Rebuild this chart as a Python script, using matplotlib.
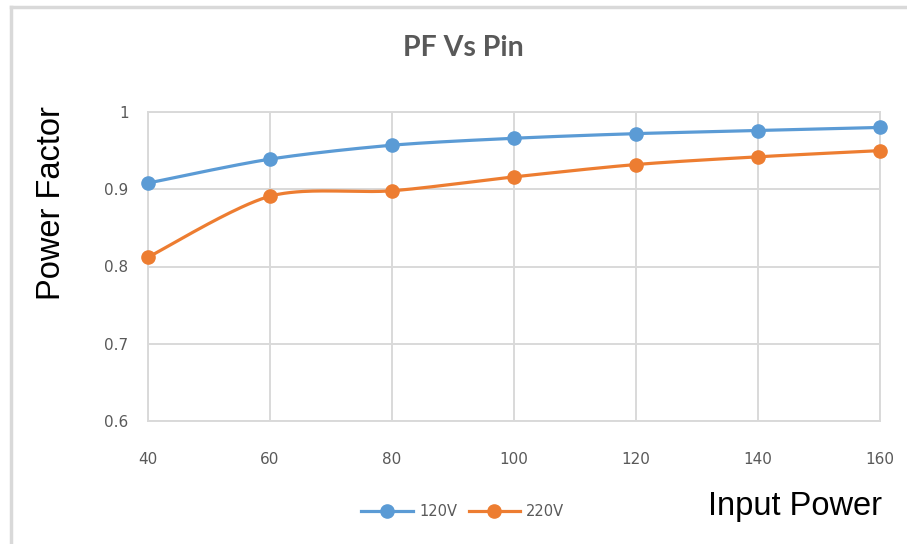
import numpy as np
import matplotlib
matplotlib.use("Agg")
import matplotlib.pyplot as plt
from matplotlib.lines import Line2D
from matplotlib.ticker import FixedLocator, FixedFormatter

# Data
input_power = [40, 60, 80, 100, 120, 140, 160]
pf_120v = [0.908, 0.939, 0.957, 0.966, 0.972, 0.976, 0.980]
pf_220v = [0.812, 0.891, 0.898, 0.916, 0.932, 0.942, 0.950]
series_labels = ["120V", "220V"]
y_ticks = [0.6, 0.7, 0.8, 0.9, 1.0]
y_tick_labels = ["0.6", "0.7", "0.8", "0.9", "1"]
x_ticks = [40, 60, 80, 100, 120, 140, 160]

BLUE = "#5B9BD5"
ORANGE = "#ED7D31"
GRID = "#D9D9D9"
TEXT = "#595959"


def smooth(xs, ys, n=40):
    """Cubic Bezier smoothing through every point (Catmull-Rom style)."""
    xs = np.asarray(xs, float)
    ys = np.asarray(ys, float)
    px = np.concatenate([[xs[0]], xs, [xs[-1]]])
    py = np.concatenate([[ys[0]], ys, [ys[-1]]])
    ox, oy = [], []
    t = np.linspace(0, 1, n)
    for i in range(1, len(px) - 2):
        p0 = np.array([px[i], py[i]])
        p3 = np.array([px[i + 1], py[i + 1]])
        p1 = p0 + (np.array([px[i + 1], py[i + 1]]) - np.array([px[i - 1], py[i - 1]])) / 7
        p2 = p3 - (np.array([px[i + 2], py[i + 2]]) - np.array([px[i], py[i]])) / 7
        b = ((1 - t) ** 3)[:, None] * p0 + (3 * (1 - t) ** 2 * t)[:, None] * p1 \
            + (3 * (1 - t) * t ** 2)[:, None] * p2 + (t ** 3)[:, None] * p3
        ox.extend(b[:, 0])
        oy.extend(b[:, 1])
    return np.array(ox), np.array(oy)


plt.rcParams["font.family"] = ["DejaVu Sans"]

fig = plt.figure(figsize=(9.07, 5.44), dpi=100)
ax = fig.add_axes([148 / 907, 1 - 421 / 544, (880 - 148) / 907, (421 - 112) / 544])

for ys, color in [(pf_120v, BLUE), (pf_220v, ORANGE)]:
    sx, sy = smooth(input_power, ys)
    ax.plot(sx, sy, color=color, lw=2.3, solid_capstyle="round", zorder=3, clip_on=False)
    ax.plot(input_power, ys, "o", color=color, ms=9.5, zorder=4, clip_on=False)

ax.set_xlim(40, 160)
ax.set_ylim(0.6, 1.0)
ax.xaxis.set_major_locator(FixedLocator(x_ticks))
ax.yaxis.set_major_locator(FixedLocator(y_ticks))
ax.yaxis.set_major_formatter(FixedFormatter(y_tick_labels))
ax.grid(True, color=GRID, lw=1.4, zorder=0)
for s in ax.spines.values():
    s.set_color(GRID)
    s.set_linewidth(1.4)
ax.tick_params(length=0, labelsize=11, labelcolor=TEXT)
ax.tick_params(axis="y", pad=14)
ax.tick_params(axis="x", pad=22)

fig.text(463 / 907, 1 - 48 / 544, "PF Vs Pin", ha="center", va="center",
         fontsize=20.5, fontweight="bold", color=TEXT, family="Lato")
fig.text(52 / 907, 1 - 203 / 544, "Power Factor", ha="center", va="center",
         rotation=90, fontsize=23.5, color="black", family="Liberation Sans")
fig.text(795 / 907, 1 - 506 / 544, "Input Power", ha="center", va="center",
         fontsize=23.5, color="black", family="Liberation Sans")

handles = [Line2D([], [], color=BLUE, lw=2.3, marker="o", ms=9.5),
           Line2D([], [], color=ORANGE, lw=2.3, marker="o", ms=9.5)]
leg = fig.legend(handles, series_labels, loc="center", ncol=2,
                 bbox_to_anchor=(463 / 907, 1 - 512 / 544), frameon=False,
                 handlelength=3.5, handletextpad=0.45, columnspacing=0.8,
                 prop={"size": 10.5, "family": "DejaVu Sans"})
for t in leg.get_texts():
    t.set_color(TEXT)

# Chart frame
fig.add_artist(Line2D([11 / 907, 11 / 907], [0, 1 - 7 / 544], color="#D9D9D9", lw=2.5,
                      transform=fig.transFigure))
fig.add_artist(Line2D([11 / 907, 1], [1 - 7 / 544, 1 - 7 / 544], color="#D9D9D9", lw=2.5,
                      transform=fig.transFigure))

fig.savefig("out.png", dpi=100)
